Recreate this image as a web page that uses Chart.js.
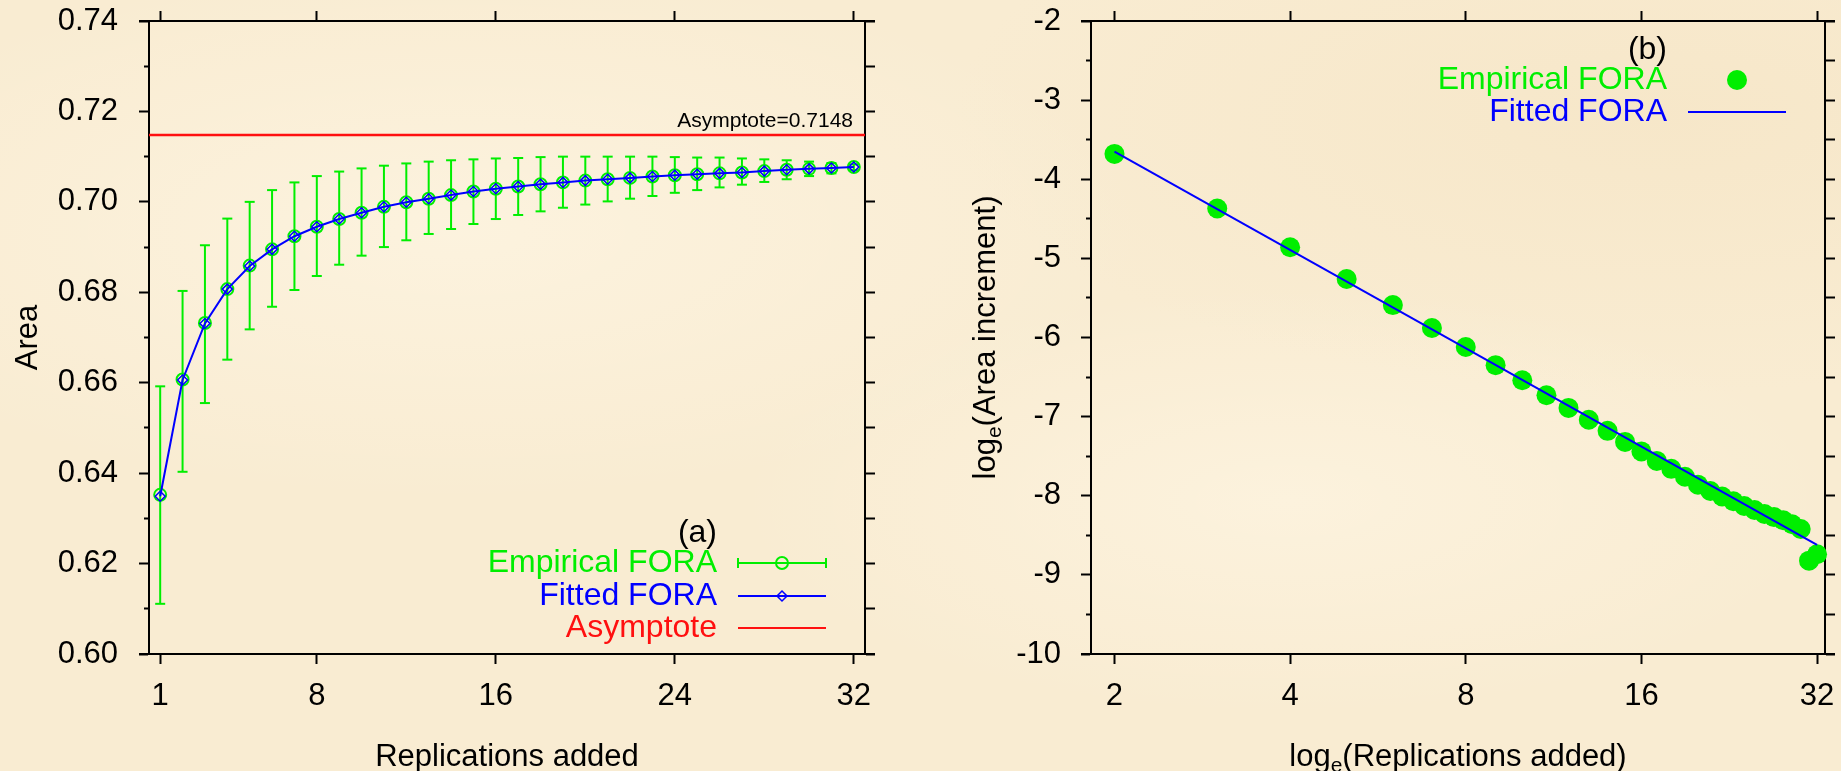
<!DOCTYPE html>
<html>
<head>
<meta charset="utf-8">
<script src="https://cdn.jsdelivr.net/npm/chart.js@4.4.1/dist/chart.umd.min.js"></script>
<style>
html, body { margin: 0; padding: 0; }
#wrap {
  position: relative; width: 1841px; height: 771px; overflow: hidden;
  background-color: #f9ecd2;
  background-image:
    radial-gradient(ellipse at 25% 30%, rgba(255,248,232,0.55), rgba(255,248,232,0) 35%),
    radial-gradient(ellipse at 70% 65%, rgba(255,248,232,0.5), rgba(255,248,232,0) 30%),
    radial-gradient(ellipse at 90% 15%, rgba(244,226,192,0.5), rgba(244,226,192,0) 30%);
}
canvas { position: absolute; top: 0; }
#left { left: 0; }
#right { left: 920px; }
</style>
</head>
<body>
<div id="wrap">
  <canvas id="left" width="920" height="771"></canvas>
  <canvas id="right" width="921" height="771"></canvas>
</div>
<script>
// ---- panel (a): area vs replications added
const replications = [1,2,3,4,5,6,7,8,9,10,11,12,13,14,15,16,17,18,19,20,21,22,23,24,25,26,27,28,29,30,31,32]
const empiricalArea = [0.6352,0.6607,0.6732,0.6807,0.6859,0.6895,0.6924,0.6945,0.6962,0.6976,0.6989,0.6999,0.7007,0.7015,0.7023,0.7029,0.7034,0.7039,0.7043,0.7047,0.7050,0.7053,0.7056,0.7059,0.7061,0.7063,0.7065,0.7068,0.7071,0.7073,0.7075,0.7077]
const errorHigh = [0.6592,0.6803,0.6904,0.6963,0.7000,0.7026,0.7043,0.7057,0.7067,0.7074,0.7080,0.7085,0.7089,0.7092,0.7094,0.7096,0.7097,0.7099,0.7100,0.7100,0.7100,0.7100,0.7100,0.7099,0.7098,0.7098,0.7096,0.7094,0.7092,0.7089,0.7086,0.7083]
const errorLow = [0.6111,0.6403,0.6555,0.6651,0.6718,0.6768,0.6805,0.6836,0.6861,0.6881,0.6900,0.6915,0.6929,0.6940,0.6951,0.6962,0.6971,0.6979,0.6987,0.6994,0.7001,0.7007,0.7013,0.7020,0.7026,0.7032,0.7038,0.7044,0.7050,0.7057,0.7063,0.7070]
const fittedArea = [0.6349,0.6606,0.6731,0.6807,0.6858,0.6895,0.6924,0.6945,0.6962,0.6976,0.6989,0.6999,0.7007,0.7015,0.7023,0.7029,0.7034,0.7039,0.7043,0.7047,0.7050,0.7053,0.7056,0.7059,0.7061,0.7063,0.7065,0.7068,0.7071,0.7073,0.7075,0.7077]
const asymptote = 0.7148
const areaTicks = [0.60,0.62,0.64,0.66,0.68,0.70,0.72,0.74]
const areaMinorTicks = [0.61,0.63,0.65,0.67,0.69,0.71,0.73]
const replicationTicks = [1,8,16,24,32]

// ---- panel (b): log area increment vs log replications
const incrementReps = [2,3,4,5,6,7,8,9,10,11,12,13,14,15,16,17,18,19,20,21,22,23,24,25,26,27,28,29,30,31,32]
const logIncrement = [-3.68,-4.37,-4.86,-5.26,-5.59,-5.88,-6.12,-6.35,-6.54,-6.73,-6.89,-7.04,-7.18,-7.32,-7.44,-7.56,-7.66,-7.76,-7.86,-7.94,-8.01,-8.07,-8.13,-8.18,-8.23,-8.27,-8.31,-8.36,-8.42,-8.82,-8.74]
const fittedLineReps = [2, 32]
const fittedLineLog = [-3.65, -8.62]
const logTicks = [-10,-9,-8,-7,-6,-5,-4,-3,-2]
const logMinorTicks = [-9.5,-8.5,-7.5,-6.5,-5.5,-4.5,-3.5,-2.5]
const repLogTicks = [2,4,8,16,32]

const green = '#00ee00'
const blue = '#0000ff'
const red = '#ff1010'
const fam = '"Liberation Sans", Arial, Helvetica, sans-serif'

Chart.defaults.font.family = fam
Chart.defaults.color = '#000'

function tickList(major, minor) {
  return major.map(v => ({value: v, isMajor: true}))
    .concat(minor.map(v => ({value: v, isMajor: false})))
    .sort((a, b) => a.value - b.value)
}

// fixed box sizes, and no extra room for half labels at the ends
function fixWidth(w) {
  return s => { s.width = w; s.paddingTop = 0; s.paddingBottom = 0; s.paddingLeft = 0; s.paddingRight = 0 }
}
function fixHeight(h) {
  return s => { s.height = h; s.paddingTop = 0; s.paddingBottom = 0; s.paddingLeft = 0; s.paddingRight = 0 }
}

// left axis: long major ticks, short minor ticks (dash starts on the outer end)
function leftGrid() {
  return {
    drawOnChartArea: false, tickLength: 10, tickWidth: 2, tickColor: '#000',
    tickBorderDash: ctx => (ctx.tick && ctx.tick.isMajor) ? [] : [5, 5],
    tickBorderDashOffset: ctx => (ctx.tick && ctx.tick.isMajor) ? 0 : 5
  }
}
const plainGrid = {drawOnChartArea: false, tickLength: 10, tickWidth: 2, tickColor: '#000'}

function frameLines(chart) {
  const {ctx, chartArea: a} = chart
  ctx.save()
  ctx.strokeStyle = '#000'
  ctx.lineWidth = 2
  ctx.beginPath()
  ctx.moveTo(a.left - 10, a.top); ctx.lineTo(a.right + 10, a.top)
  ctx.moveTo(a.left - 10, a.bottom); ctx.lineTo(a.right + 10, a.bottom)
  ctx.stroke()
  ctx.restore()
}

function drawParts(ctx, parts, cx, cy, rotate) {
  const mainFont = '31px ' + fam
  const subFont = '21px ' + fam
  ctx.save()
  ctx.translate(cx, cy)
  if (rotate) ctx.rotate(-Math.PI / 2)
  const widths = parts.map(p => { ctx.font = p.sub ? subFont : mainFont; return ctx.measureText(p.text).width })
  let x = -widths.reduce((s, w) => s + w, 0) / 2
  ctx.textAlign = 'left'
  ctx.textBaseline = 'middle'
  ctx.fillStyle = '#000'
  parts.forEach((p, i) => {
    ctx.font = p.sub ? subFont : mainFont
    ctx.fillText(p.text, x, p.sub ? 9 : 0)
    x += widths[i]
  })
  ctx.restore()
}

const leftDecor = {
  id: 'leftDecor',
  afterDraw(chart) {
    frameLines(chart)
    const ctx = chart.ctx
    const yS = chart.scales.y
    const a = chart.chartArea
    ctx.save()
    // asymptote label
    ctx.font = '21px ' + fam
    ctx.fillStyle = '#000'
    ctx.textAlign = 'right'
    ctx.textBaseline = 'alphabetic'
    ctx.fillText('Asymptote=' + asymptote, a.right - 12, yS.getPixelForValue(asymptote) - 8)
    // legend
    ctx.font = '32px ' + fam
    ctx.textBaseline = 'middle'
    ctx.fillStyle = '#000'; ctx.fillText('(a)', 717, 533)
    ctx.fillStyle = green; ctx.fillText('Empirical FORA', 717, 563)
    ctx.fillStyle = blue; ctx.fillText('Fitted FORA', 717, 596)
    ctx.fillStyle = red; ctx.fillText('Asymptote', 717, 628)
    ctx.lineWidth = 2
    ctx.strokeStyle = green
    ctx.beginPath()
    ctx.moveTo(738, 563); ctx.lineTo(826, 563)
    ctx.moveTo(738, 558); ctx.lineTo(738, 568)
    ctx.moveTo(826, 558); ctx.lineTo(826, 568)
    ctx.stroke()
    ctx.beginPath(); ctx.arc(782, 563, 6, 0, Math.PI * 2); ctx.stroke()
    ctx.strokeStyle = blue
    ctx.beginPath(); ctx.moveTo(738, 596); ctx.lineTo(826, 596); ctx.stroke()
    ctx.lineWidth = 1.5
    ctx.beginPath()
    ctx.moveTo(782, 591); ctx.lineTo(787, 596); ctx.lineTo(782, 601); ctx.lineTo(777, 596); ctx.closePath()
    ctx.stroke()
    ctx.strokeStyle = red
    ctx.lineWidth = 2
    ctx.beginPath(); ctx.moveTo(738, 628); ctx.lineTo(826, 628); ctx.stroke()
    ctx.restore()
  }
}

const rightDecor = {
  id: 'rightDecor',
  afterDraw(chart) {
    frameLines(chart)
    const ctx = chart.ctx
    const a = chart.chartArea
    ctx.save()
    ctx.font = '32px ' + fam
    ctx.textAlign = 'right'
    ctx.textBaseline = 'middle'
    ctx.fillStyle = '#000'; ctx.fillText('(b)', 747, 50)
    ctx.fillStyle = green; ctx.fillText('Empirical FORA', 747, 80)
    ctx.fillStyle = blue; ctx.fillText('Fitted FORA', 747, 112)
    ctx.fillStyle = green
    ctx.beginPath(); ctx.arc(817, 80, 10, 0, Math.PI * 2); ctx.fill()
    ctx.strokeStyle = blue
    ctx.lineWidth = 2
    ctx.beginPath(); ctx.moveTo(768, 112); ctx.lineTo(866, 112); ctx.stroke()
    ctx.restore()
    drawParts(ctx, [{text: 'log'}, {text: 'e', sub: true}, {text: '(Replications added)'}], (a.left + a.right) / 2, 757, false)
    drawParts(ctx, [{text: 'log'}, {text: 'e', sub: true}, {text: '(Area increment)'}], 66, (a.top + a.bottom) / 2, true)
  }
}

const tickFont = {size: 31}

// ---- chart (a)
const errorSegments = []
const errorCaps = []
replications.forEach((r, i) => {
  errorSegments.push({x: r, y: errorLow[i]}, {x: r, y: errorHigh[i]}, {x: r, y: null})
  errorCaps.push({x: r, y: errorLow[i]}, {x: r, y: errorHigh[i]})
})

new Chart(document.getElementById('left'), {
  type: 'scatter',
  data: {
    datasets: [
      {label: 'Fitted FORA', data: replications.map((r, i) => ({x: r, y: fittedArea[i]})),
        showLine: true, borderColor: blue, borderWidth: 2, pointStyle: 'rectRot', pointRadius: 5,
        pointBorderColor: blue, pointBorderWidth: 1.5, pointBackgroundColor: 'rgba(0,0,0,0)', clip: false},
      {label: 'Empirical FORA', data: replications.map((r, i) => ({x: r, y: empiricalArea[i]})),
        pointStyle: 'circle', pointRadius: 6, pointBorderColor: green, pointBorderWidth: 2,
        pointBackgroundColor: 'rgba(0,0,0,0)', clip: false},
      {label: 'caps', data: errorCaps, pointStyle: 'line', pointRadius: 5,
        pointBorderColor: green, pointBorderWidth: 2, clip: false},
      {label: 'bars', data: errorSegments, showLine: true, spanGaps: false,
        borderColor: green, borderWidth: 2, pointRadius: 0, clip: false},
      {label: 'Asymptote', data: [{x: 0.5, y: asymptote}, {x: 32.5, y: asymptote}],
        showLine: true, borderColor: red, borderWidth: 2.5, pointRadius: 0}
    ]
  },
  options: {
    responsive: false, animation: false, events: [],
    layout: {padding: 0},
    plugins: {legend: {display: false}, tooltip: {enabled: false}},
    scales: {
      x: {
        type: 'linear', position: 'bottom', min: 0.5, max: 32.5,
        afterBuildTicks: s => { s.ticks = replicationTicks.map(v => ({value: v})) },
        afterFit: fixHeight(117),
        ticks: {font: tickFont, padding: 14, maxRotation: 0, autoSkip: false, callback: v => String(v)},
        grid: plainGrid, border: {display: false},
        title: {display: true, text: 'Replications added', font: {size: 31}, padding: {top: 0, bottom: -5}}
      },
      x2: {
        type: 'linear', position: 'top', min: 0.5, max: 32.5,
        afterBuildTicks: s => { s.ticks = replicationTicks.map(v => ({value: v})) },
        afterFit: fixHeight(21),
        ticks: {display: false}, grid: plainGrid, border: {display: false}
      },
      y: {
        type: 'linear', position: 'left', min: 0.60, max: 0.74,
        afterBuildTicks: s => { s.ticks = tickList(areaTicks, areaMinorTicks) },
        afterFit: fixWidth(149),
        ticks: {font: tickFont, padding: 21, autoSkip: false,
          callback: (v, i, t) => t[i].isMajor ? v.toFixed(2) : ''},
        grid: leftGrid(), border: {display: true, color: '#000', width: 2},
        title: {display: true, text: 'Area', font: {size: 31}, padding: {top: 10, bottom: 0}}
      },
      y2: {
        type: 'linear', position: 'right', min: 0.60, max: 0.74,
        afterBuildTicks: s => { s.ticks = tickList(areaTicks, areaMinorTicks) },
        afterFit: fixWidth(55),
        ticks: {display: false}, grid: plainGrid, border: {display: true, color: '#000', width: 2}
      }
    }
  },
  plugins: [leftDecor]
})

// ---- chart (b)
new Chart(document.getElementById('right'), {
  type: 'scatter',
  data: {
    datasets: [
      {label: 'Fitted FORA', data: fittedLineReps.map((r, i) => ({x: r, y: fittedLineLog[i]})),
        showLine: true, borderColor: blue, borderWidth: 2, pointRadius: 0, clip: false},
      {label: 'Empirical FORA', data: incrementReps.map((r, i) => ({x: r, y: logIncrement[i]})),
        pointStyle: 'circle', pointRadius: 10, pointBackgroundColor: green, pointBorderColor: green,
        pointBorderWidth: 0, clip: false}
    ]
  },
  options: {
    responsive: false, animation: false, events: [],
    layout: {padding: 0},
    plugins: {legend: {display: false}, tooltip: {enabled: false}},
    scales: {
      x: {
        type: 'logarithmic', position: 'bottom', min: 1.823, max: 33.02,
        afterBuildTicks: s => { s.ticks = repLogTicks.map(v => ({value: v})) },
        afterFit: fixHeight(117),
        ticks: {font: tickFont, padding: 14, maxRotation: 0, autoSkip: false, callback: v => String(v)},
        grid: plainGrid, border: {display: false}
      },
      x2: {
        type: 'logarithmic', position: 'top', min: 1.823, max: 33.02,
        afterBuildTicks: s => { s.ticks = repLogTicks.map(v => ({value: v})) },
        afterFit: fixHeight(21),
        ticks: {display: false}, grid: plainGrid, border: {display: false}
      },
      y: {
        type: 'linear', position: 'left', min: -10, max: -2,
        afterBuildTicks: s => { s.ticks = tickList(logTicks, logMinorTicks) },
        afterFit: fixWidth(171),
        ticks: {font: tickFont, padding: 20, autoSkip: false,
          callback: (v, i, t) => t[i].isMajor ? String(v) : ''},
        grid: leftGrid(), border: {display: true, color: '#000', width: 2}
      },
      y2: {
        type: 'linear', position: 'right', min: -10, max: -2,
        afterBuildTicks: s => { s.ticks = tickList(logTicks, logMinorTicks) },
        afterFit: fixWidth(16),
        ticks: {display: false}, grid: plainGrid, border: {display: true, color: '#000', width: 2}
      }
    }
  },
  plugins: [rightDecor]
})
</script>
</body>
</html>
